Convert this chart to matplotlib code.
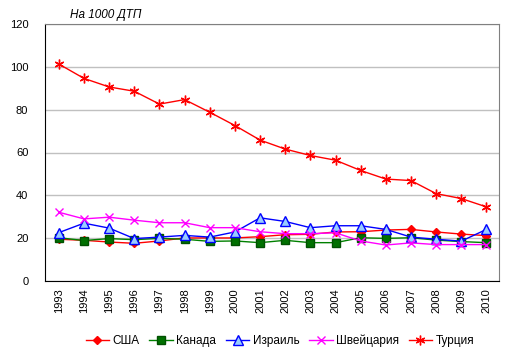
import matplotlib
matplotlib.use("Agg")
import matplotlib.pyplot as plt

# данные: на 1000 ДТП
years = [str(y) for y in range(1993, 2011)]
usa = [19.5, 19, 18.2, 17.6, 18.7, 20.1, 20.1, 20.1, 20.7, 21.6,
       21.8, 22.9, 23, 23.8, 24.1, 22.9, 21.9, 21.2]
canada = [20.2, 18.9, 19.8, 19.3, 19.9, 19.5, 18.5, 18.7, 17.9, 19,
          17.9, 17.9, 20.2, 19.9, 20.2, 19.1, 18.4, 17.9]
israel = [22.6, 27, 24.7, 19.8, 20.5, 21.3, 20.5, 22.9, 29.5, 27.8,
          24.9, 25.8, 25.8, 24.1, 20.5, 19.5, 18.6, 24.1]
swiss = [32.1, 29, 29.8, 28.4, 27.2, 27.2, 24.9, 24.9, 23, 22.1,
         22.1, 22.5, 18.7, 16.8, 17.8, 17, 17, 17]
turkey = [101.3, 94.6, 90.6, 88.6, 82.6, 84.7, 78.8, 72.6, 65.8, 61.6,
          58.6, 56.4, 51.6, 47.6, 46.9, 40.8, 38.5, 34.6]

plt.rcParams['font.family'] = ['Liberation Sans', 'DejaVu Sans']

fig = plt.figure(figsize=(5.14, 3.58), dpi=100)
ax = fig.add_axes([45/514, 1-281/358, 454/514, 257/358])

x = list(range(len(years)))
ax.plot(x, usa, color='#FF0000', lw=1, marker='D', ms=4.5,
        mfc='#FF0000', mec='#FF0000', label='США', zorder=3)
ax.plot(x, canada, color='#008000', lw=1, marker='s', ms=5.5,
        mfc='#007000', mec='#005000', label='Канада', zorder=3)
ax.plot(x, israel, color='#0000FF', lw=1, marker='^', ms=6.5,
        mfc='#99CCFF', mec='#0000FF', label='Израиль', zorder=3)
ax.plot(x, swiss, color='#FF00FF', lw=1, marker='x', ms=6,
        mec='#FF00FF', mew=1, label='Швейцария', zorder=3)
ax.plot(x, turkey, color='#FF0000', lw=1, marker=(6, 2, 0), ms=7,
        mec='#FF0000', mew=1, label='Турция', zorder=3)

ax.set_xlim(-0.55, 17.5)
ax.set_ylim(0, 120)
ax.set_yticks(range(0, 121, 20))
ax.set_xticks(x)
ax.set_xticklabels(years, rotation=90, fontsize=8)
ax.tick_params(axis='y', labelsize=8, length=0, pad=12)
ax.tick_params(axis='x', length=0, pad=5)
ax.yaxis.grid(True, color='#C0C0C0', lw=1)
ax.set_axisbelow(True)
ax.spines['left'].set_color('black')
ax.spines['bottom'].set_color('black')
ax.spines['top'].set_color('#808080')
ax.spines['right'].set_color('#808080')

fig.text(70/514, 1-15/358, 'На 1000 ДТП', fontsize=8.5, style='italic',
         va='center', ha='left')

fig.legend(loc='center', bbox_to_anchor=(280/514, 1-341/358), ncol=5,
           frameon=False, fontsize=8.5, handlelength=2.0, columnspacing=0.8,
           handletextpad=0.3)

fig.savefig('out.png', dpi=100)
